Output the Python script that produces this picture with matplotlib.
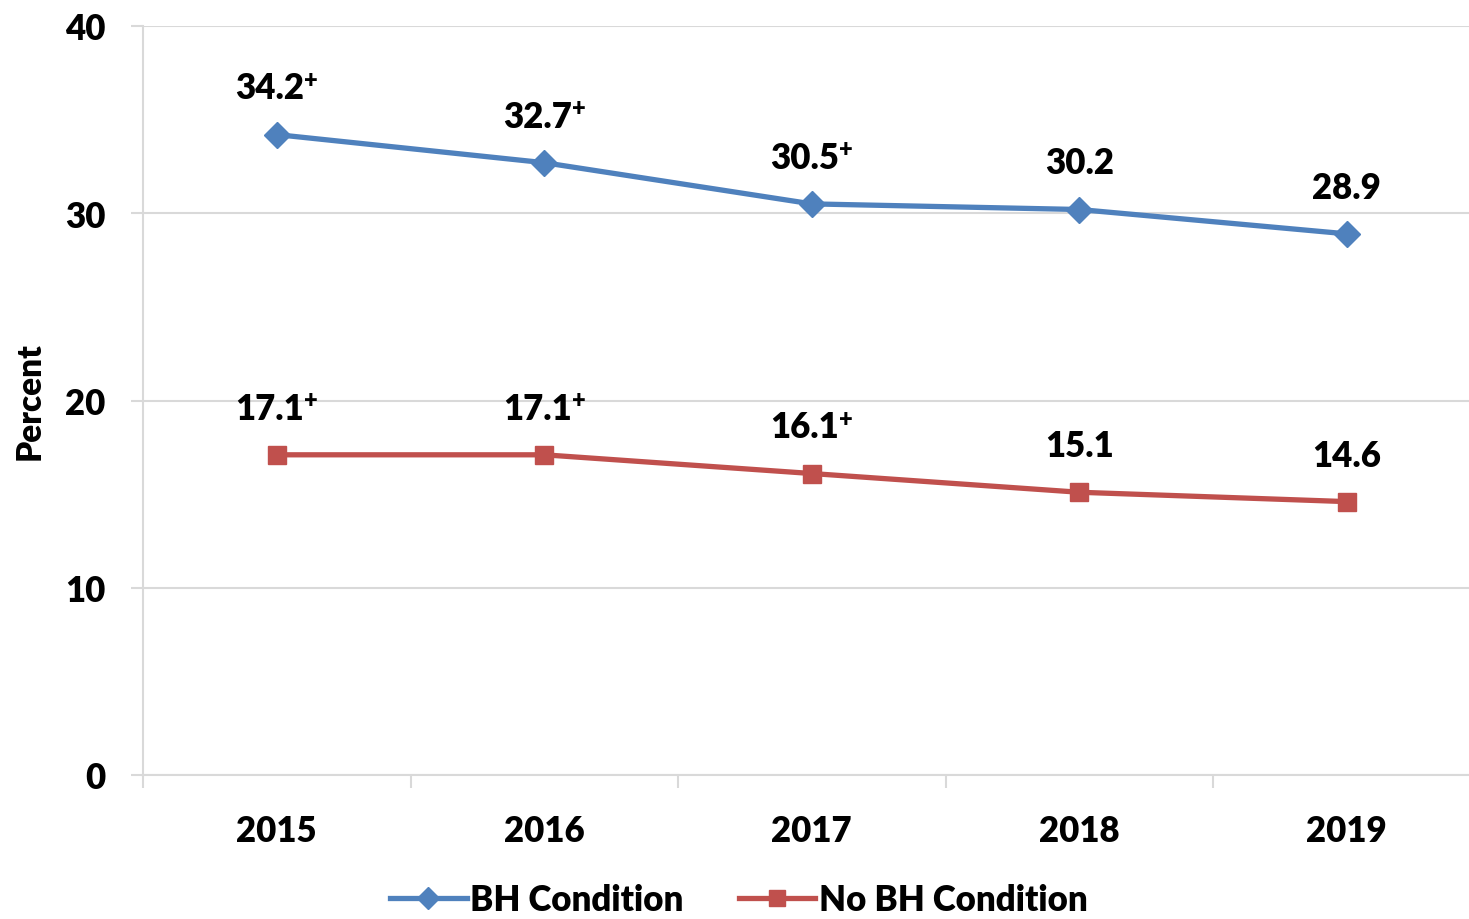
import matplotlib
matplotlib.use("Agg")
import matplotlib.pyplot as plt
from matplotlib.ticker import FixedLocator

years = ["2015", "2016", "2017", "2018", "2019"]
bh_values = [34.2, 32.7, 30.5, 30.2, 28.9]
no_bh_values = [17.1, 17.1, 16.1, 15.1, 14.6]
bh_plus = [True, True, True, False, False]
no_bh_plus = [True, True, True, False, False]
y_ticks = [0, 10, 20, 30, 40]

BLUE = "#4F81BD"
RED = "#C0504D"
GRID = "#D9D9D9"
W = "heavy"

plt.rcParams["font.family"] = ["Lato", "DejaVu Sans"]
plt.rcParams["font.weight"] = W

fig = plt.figure(figsize=(14.69, 9.2), dpi=100)
ax = fig.add_axes([143 / 1469, 1 - 776 / 920, 1337.5 / 1469, (776 - 27) / 920])

x = list(range(len(years)))
ax.plot(x, bh_values, color=BLUE, lw=3.8, marker="D", ms=13, mec=BLUE, mfc=BLUE,
        label="BH Condition", zorder=3)
ax.plot(x, no_bh_values, color=RED, lw=3.8, marker="s", ms=13, mec=RED, mfc=RED,
        label="No BH Condition", zorder=3)


def add_labels(values, plus_flags):
    for xi, val, plus in zip(x, values, plus_flags):
        shift = -5 if plus else 0
        t = ax.annotate(f"{val:.1f}", xy=(xi, val), xytext=(shift, 26),
                        textcoords="offset points", ha="center", va="baseline",
                        fontsize=25, fontweight=W)
        if plus:
            ax.annotate("+", xy=(1.0, 1.0), xycoords=t, xytext=(0, 2),
                        textcoords="offset points", ha="left", va="top",
                        fontsize=17, fontweight=W)


add_labels(bh_values, bh_plus)
add_labels(no_bh_values, no_bh_plus)

ax.set_xlim(-0.5, len(years) - 0.5)
ax.set_ylim(0, 40)
ax.set_yticks(y_ticks)
ax.set_yticklabels([str(v) for v in y_ticks], fontsize=25, fontweight=W)
ax.yaxis.grid(True, color=GRID, lw=1.5)
ax.set_axisbelow(True)
ax.tick_params(axis="y", length=9, width=1.5, color=GRID, pad=18)

ax.set_xticks(x)
ax.set_xticklabels(years, fontsize=25, fontweight=W)
ax.xaxis.set_minor_locator(FixedLocator([i - 0.5 for i in range(len(years) + 1)]))
ax.tick_params(axis="x", which="major", length=0, pad=28)
ax.tick_params(axis="x", which="minor", length=9, width=1.5, color=GRID)

for side in ["top", "right"]:
    ax.spines[side].set_visible(False)
for side in ["left", "bottom"]:
    ax.spines[side].set_color(GRID)
    ax.spines[side].set_linewidth(1.5)

ax.set_ylabel("Percent", fontsize=24, fontweight=W)
ax.yaxis.set_label_coords(-0.073, 0.5)

fig.legend(loc="lower center", bbox_to_anchor=(0.503, -0.031), ncol=2, frameon=False,
           handlelength=2.2, handletextpad=0.1, columnspacing=1.6, markerscale=0.85,
           prop={"weight": W, "size": 25})

fig.savefig("out.png", dpi=100)
